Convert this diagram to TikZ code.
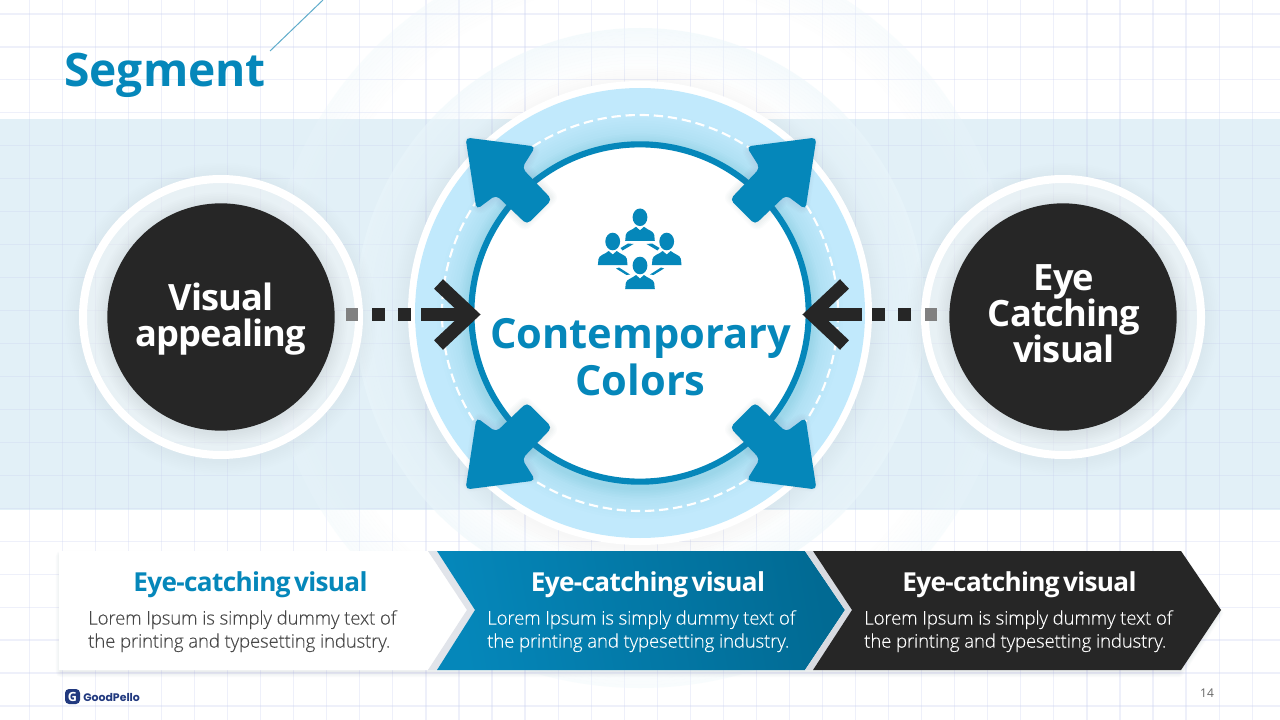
\documentclass[tikz,border=0pt]{standalone}
\usepackage{fontspec}
\setmainfont{Open Sans}
\newfontfamily\headf[LetterSpace=-2.5,WordSpace=0.55]{Open Sans}
\newfontfamily\bodyf[LetterSpace=-1,FakeBold=0.2]{Open Sans Light}
\newfontfamily\logof{Poppins}
\usetikzlibrary{calc}
\definecolor{brandblue}{HTML}{0587BA}
\definecolor{deepblue}{HTML}{016A93}
\definecolor{darkfill}{HTML}{262626}
\definecolor{ringblue}{HTML}{C1E9FC}
\definecolor{bandblue}{HTML}{E2F0F7}
\definecolor{gridc}{HTML}{C8CFF0}
\definecolor{navy}{HTML}{21397F}
\definecolor{hazec}{HTML}{EBF6FB}
\definecolor{shadeblue}{HTML}{1F6FA0}
\definecolor{thinline}{HTML}{5FACCB}
\definecolor{edgea}{HTML}{E1E4EA}
\definecolor{edgeb}{HTML}{D8DBE1}
\definecolor{softshadow}{HTML}{5A6E8C}
\newcommand{\fsz}[1]{\fontsize{#1}{#1}\selectfont}
\tikzset{
  gridline/.style={draw=gridc,line width=0.9pt,opacity=.3},
  dotline/.style={draw=darkfill,line width=9.8pt},
  chevhead/.style={draw=darkfill,line width=9.8pt,miter limit=10},
  blockarrow/.style={fill=brandblue,draw=none,rounded corners=3.5pt},
  person/.style={fill=brandblue,draw=none},
  duo/.style={align=center,text=white,font=\bfseries\headf\fsz{27.2}\selectfont,text depth=0pt},
  headtxt/.style={font=\bfseries\headf\fsz{19.6},inner sep=0pt},
  bodytxt/.style={font=\bodyf\fsz{14},align=left,inner sep=0pt}
}
\newcommand{\personat}[2]{%
  \begin{scope}[shift={(#1,#2)}]
    \fill[person] (0,0) ellipse (7.4 and 8.8);
    \fill[person] (-14.8,23.6) -- (-14.2,17.5) .. controls (-13.5,13.5) and (-8,13) .. (-4,9.5) -- (0,13) -- (4,9.5) .. controls (8,13) and (13.5,13.5) .. (14.2,17.5) -- (14.8,23.6) -- cycle;
  \end{scope}}
\newcommand{\darkdisc}[5]{% x, name, text, text y, text x
  \foreach \k in {1,...,8}{\fill[softshadow,opacity=.005] (#1,319) circle ({142+\k*1.8});}
  \fill[white,opacity=.4] (#1,317) circle (135);
  \draw[white,line width=6pt] (#1,317) circle (138);
  \foreach \k in {1,...,8}{\fill[softshadow,opacity=.012] (#1,319) circle ({113+\k*1.7});}
  \node[circle,fill=darkfill,minimum size=170.5pt,inner sep=0pt] (#2) at (#1,317) {};
  \node[duo,inner sep=0pt] (#2txt) at (#5,#4) {#3};}
\begin{document}
\begin{tikzpicture}[x=0.75pt,y=-0.75pt]
\useasboundingbox (0,0) rectangle (1280,720);
\fill[white] (0,0) rectangle (1280,720);
% band
\fill[bandblue] (0,119) rectangle (1280,510);
% grid
\foreach \i in {0,...,38}{\draw[gridline] ({29.3+33.05*\i},0) -- ({29.3+33.05*\i},720);}
\foreach \i in {0,...,21}{\draw[gridline] (0,{14+32.95*\i}) -- (1280,{14+32.95*\i});}
% haze rings, strongest at their outer edge
\foreach \k in {0,...,13}{\draw[hazec,line width=2.4pt,opacity={.32*(1-\k/14)}] (640,313) circle ({375-1.6-\k*3.2});}
\foreach \k in {0,...,13}{\draw[hazec,line width=2.4pt,opacity={.5*(1-\k/14)}] (640,313) circle ({285-1.6-\k*3.2});}
% centre rings
\foreach \k in {1,...,8}{\fill[softshadow,opacity=.004] (640,315) circle ({232+\k*2});}
\fill[white] (640,313) circle (232);
\fill[ringblue] (640,313) circle (225);
\foreach \k in {1,...,12}{\fill[shadeblue,opacity=.007] (640,316) circle ({172+\k*2.6});}
\draw[white,line width=1.6pt,dash pattern=on 7pt off 3.6pt] (640,313) circle (198);
\foreach \k in {1,...,7}{\fill[shadeblue,opacity=.007] (640,316) circle ({172+\k*1.5});}
\node[circle,fill=white,draw=brandblue,line width=4.6pt,minimum size=253pt,inner sep=0pt] (hub) at (640,313) {};
% dark discs
\darkdisc{221}{left}{Visual\\[-.5pt]appealing}{315}{221}
\darkdisc{1063}{right}{Eye\\[-.5pt]Catching\\[-.5pt]visual}{313.5}{1064}
% block arrows
\foreach \sx/\sy in {1/1,-1/1,1/-1,-1/-1}{
  \begin{scope}[shift={(641,313.5)},xscale=\sx,yscale=\sy]
    \foreach \k in {1,...,6}{\draw[softshadow,opacity=.018,line width={\k*2pt},line join=round] (-170,-170) -- (-110,-162) -- (-119,-145.5) -- (-92,-116) -- (-116,-92) -- (-145,-118.5) -- (-161,-108) -- cycle;}
    \fill[blockarrow] (-175.5,-176) -- (-105.5,-167) -- (-119,-145.5) -- (-89,-114) -- (-114,-89) -- (-145,-118.5) -- (-164.5,-104) -- cycle;
  \end{scope}}
% left dotted arrow
\coordinate (lA) at (346,314.5);
\coordinate (lB) at (358,314.5);
\coordinate (lC) at (372,314.5);
\coordinate (lD) at (411,314.5);
\coordinate (lE) at (421,314.5);
\coordinate (lF) at (471,314.5);
\draw[draw=black!50,line width=9.8pt] (lA) -- (lB);
\draw[dotline,dash pattern=on 9.75pt off 9.75pt] (lC) -- (lD);
\draw[dotline] (lE) -- (lF);
\draw[chevhead] (438.5,284) -- (lF) -- (438.5,345);
% right dotted arrow
\coordinate (rA) at (937,314.5);
\coordinate (rB) at (925,314.5);
\coordinate (rC) at (911,314.5);
\coordinate (rD) at (872,314.5);
\coordinate (rE) at (862,314.5);
\coordinate (rF) at (812,314.5);
\draw[draw=black!50,line width=9.8pt] (rA) -- (rB);
\draw[dotline,dash pattern=on 9.75pt off 9.75pt] (rC) -- (rD);
\draw[dotline] (rE) -- (rF);
\draw[chevhead] (844.5,284) -- (rF) -- (844.5,345);
% centre text
\node[align=center,text=brandblue,font=\bfseries\fsz{31.2}\selectfont,inner sep=0pt] (hubtxt) at (640.5,357) {Contemporary\\[4pt]Colors};
% icon
\personat{640}{217.3}
\personat{612.7}{241.5}
\personat{666.7}{241.5}
\personat{640}{265.5}
\foreach \sx in {1,-1}{
  \begin{scope}[shift={(640,0)},xscale=\sx]
    \fill[person] (-17.5,250.5) -- (-6.5,244) -- (-12,243.5) -- (-19.5,248) -- cycle;
    \fill[person] (-21,267.5) -- (-10,274.5) -- (-13.5,275) -- (-24,268.5) -- cycle;
  \end{scope}}
% title
\node[anchor=base west,text=brandblue,font=\bfseries\fsz{34.6},inner sep=0pt] (title) at (64,86.5) {Segment};
\coordinate (t1) at (270,51);
\coordinate (t2) at (323,0);
\draw[thinline,line width=.75pt] (t1) -- (t2);
% chevrons
\foreach \k in {1,...,6}{\draw[softshadow,opacity=.02,line width={\k*1.3pt},line join=round] (61,556) -- (1179,556) -- (1218,613) -- (1179,672) -- (61,672) -- cycle;}
\fill[white] (59,551) -- (428,551) -- (467,610) -- (428,670) -- (59,670) -- cycle;
\fill[edgea] (428,551) -- (437,551) -- (475,610) -- (437,670) -- (428,670) -- (467,610) -- cycle;
\shade[left color=brandblue,right color=deepblue,shading angle=100] (437,551) -- (805,551) -- (845,610) -- (805,670) -- (437,670) -- (475,610) -- cycle;
\fill[edgeb] (805,551) -- (813,551) -- (852,610) -- (813,670) -- (805,670) -- (845,610) -- cycle;
\fill[darkfill] (813,551) -- (1181,551) -- (1221,610) -- (1181,670) -- (813,670) -- (852,610) -- cycle;
% chevron texts
\node[headtxt,text=brandblue] (h1) at (250.5,585) {Eye-catching visual};
\node[headtxt,text=white] (h2) at (648,585) {Eye-catching visual};
\node[headtxt,text=white] (h3) at (1019.5,585) {Eye-catching visual};
\node[bodytxt,text=black!72,anchor=north west] (b1) at (88,610) {Lorem Ipsum is simply dummy text of\\[3.3pt]the printing and typesetting industry.};
\node[bodytxt,text=white,anchor=north west] (b2) at (487,610) {Lorem Ipsum is simply dummy text of\\[3.3pt]the printing and typesetting industry.};
\node[bodytxt,text=white,anchor=north west] (b3) at (864,610) {Lorem Ipsum is simply dummy text of\\[3.3pt]the printing and typesetting industry.};
% footer
\fill[navy,rounded corners=3pt] (65,689) rectangle (80,704);
\node[text=white,font=\bfseries\fsz{9.5},inner sep=0pt] (logog) at (72.5,696.5) {G};
\node[anchor=west,text=navy,font=\logof\bfseries\fsz{8.2},inner sep=0pt] (logot) at (83,697) {GoodPello};
\node[text=black!60,font=\fsz{9},inner sep=0pt] (page) at (1207,693) {14};
\end{tikzpicture}
\end{document}
